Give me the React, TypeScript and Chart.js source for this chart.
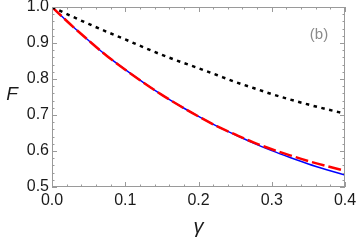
import React, { useEffect, useRef } from "react";
import { Chart, registerables } from "chart.js";

Chart.register(...registerables);

const gammaValues = [0, 0.025, 0.05, 0.075, 0.1, 0.125, 0.15, 0.175, 0.2, 0.225, 0.25, 0.275, 0.3, 0.325, 0.35, 0.375, 0.4];
const blueSolid = [1.0, 0.952, 0.907, 0.864, 0.826, 0.79, 0.756, 0.725, 0.696, 0.669, 0.645, 0.622, 0.601, 0.582, 0.564, 0.548, 0.533];
const redDashed = [1.0, 0.952, 0.907, 0.864, 0.826, 0.79, 0.756, 0.725, 0.696, 0.669, 0.646, 0.624, 0.605, 0.588, 0.572, 0.558, 0.545];
const blackDotted = [1.0, 0.976, 0.953, 0.931, 0.91, 0.888, 0.867, 0.848, 0.83, 0.811, 0.792, 0.775, 0.758, 0.743, 0.729, 0.716, 0.704];
const xTicks = [0, 0.1, 0.2, 0.3, 0.4];
const yTicks = [0.5, 0.6, 0.7, 0.8, 0.9, 1.0];

const FONT = "'Liberation Sans', Arial, sans-serif";

const pts = (ys: number[]) => gammaValues.map((x, i) => ({ x, y: ys[i] }));

const framePlugin = {
  id: "frameTicks",
  afterDraw(chart: any) {
    const { ctx, chartArea: a, scales } = chart;
    const xs = scales.x;
    const ys = scales.y;
    ctx.save();
    ctx.strokeStyle = "#9a9a9a";
    ctx.lineWidth = 1;
    ctx.strokeRect(a.left + 0.5, a.top + 0.5, a.right - a.left - 1, a.bottom - a.top - 1);
    const major = 5;
    const minor = 2.5;
    ctx.beginPath();
    for (let i = 0; i <= 20; i++) {
      const v = i * 0.02;
      const px = Math.round(xs.getPixelForValue(v)) + 0.5;
      const len = i % 5 === 0 ? major : minor;
      ctx.moveTo(px, a.bottom);
      ctx.lineTo(px, a.bottom - len);
      ctx.moveTo(px, a.top);
      ctx.lineTo(px, a.top + len);
    }
    for (let i = 0; i <= 25; i++) {
      const v = 0.5 + i * 0.02;
      const py = Math.round(ys.getPixelForValue(v)) + 0.5;
      const len = i % 5 === 0 ? major : minor;
      ctx.moveTo(a.left, py);
      ctx.lineTo(a.left + len, py);
      ctx.moveTo(a.right, py);
      ctx.lineTo(a.right - len, py);
    }
    ctx.stroke();

    ctx.fillStyle = "#1a1a1a";
    ctx.font = `italic 19px ${FONT}`;
    ctx.textAlign = "center";
    ctx.textBaseline = "middle";
    ctx.fillText("F", 12, (a.top + a.bottom) / 2 - 2);

    ctx.fillStyle = "#8a8a8a";
    ctx.font = `15px ${FONT}`;
    ctx.fillText("(b)", 319, 35);
    ctx.restore();
  },
};

export default function App() {
  const ref = useRef<HTMLCanvasElement>(null);
  useEffect(() => {
    const canvas = ref.current!;
    const chart = new Chart(canvas, {
      type: "line",
      data: {
        datasets: [
          {
            data: pts(blueSolid),
            borderColor: "#0000ff",
            borderWidth: 1.5,
            pointRadius: 0,
            order: 3,
            cubicInterpolationMode: "monotone",
          },
          {
            data: pts(redDashed),
            borderColor: "#ff0000",
            borderWidth: 2.5,
            borderDash: [13, 4],
            pointRadius: 0,
            order: 2,
            cubicInterpolationMode: "monotone",
          },
          {
            data: pts(blackDotted),
            borderColor: "#000000",
            borderWidth: 2.5,
            borderDash: [3.5, 4.5],
            pointRadius: 0,
            order: 1,
            cubicInterpolationMode: "monotone",
          },
        ],
      },
      options: {
        responsive: false,
        animation: false,
        devicePixelRatio: 1,
        layout: { padding: { left: 0, right: 12, top: 7, bottom: 0 } },
        plugins: { legend: { display: false }, tooltip: { enabled: false } },
        scales: {
          x: {
            type: "linear",
            min: 0,
            max: 0.4,
            border: { display: false },
            grid: { display: false, drawTicks: false },
            afterBuildTicks: (s: any) => {
              s.ticks = xTicks.map((v) => ({ value: v }));
            },
            afterFit: (s: any) => {
              s.height = 54;
              s.paddingLeft = 0;
              s.paddingRight = 0;
            },
            ticks: {
              padding: 4,
              color: "#1a1a1a",
              font: { family: FONT, size: 16 },
              callback: (v: any) => Number(v).toFixed(1),
              maxRotation: 0,
              autoSkip: false,
            },
            title: {
              display: true,
              text: "γ",
              color: "#1a1a1a",
              font: { family: FONT, size: 20, style: "italic" },
              padding: { top: 0, bottom: 2 },
            },
          },
          y: {
            type: "linear",
            min: 0.5,
            max: 1.0,
            border: { display: false },
            grid: { display: false, drawTicks: false },
            afterBuildTicks: (s: any) => {
              s.ticks = yTicks.map((v) => ({ value: v }));
            },
            afterFit: (s: any) => {
              s.width = 52;
              s.paddingTop = 0;
              s.paddingBottom = 0;
            },
            ticks: {
              padding: 3,
              color: "#1a1a1a",
              font: { family: FONT, size: 16 },
              callback: (v: any) => Number(v).toFixed(1),
              autoSkip: false,
            },
          },
        },
      },
      plugins: [framePlugin],
    } as any);
    return () => chart.destroy();
  }, []);
  return (
    <div style={{ position: "fixed", left: 0, top: 0, width: 357, height: 241, background: "#fff" }}>
      <canvas ref={ref} width={357} height={241} style={{ display: "block", width: 357, height: 241 }} />
    </div>
  );
}
